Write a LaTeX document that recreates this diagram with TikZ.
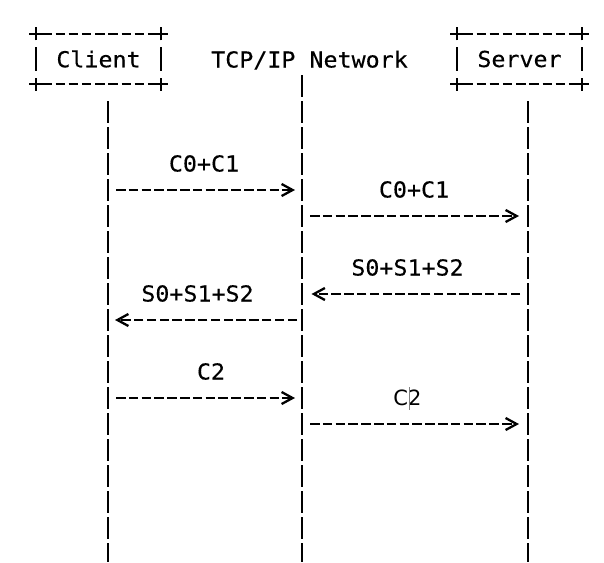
\documentclass[tikz,border=0pt]{standalone}
\usepackage{fontspec}
\setmonofont[FakeStretch=1.06, FakeBold=0.3]{DejaVu Sans Mono}
\newfontfamily\plainsans{DejaVu Sans}
\usetikzlibrary{arrows.meta, calc}

\begin{document}
\begin{tikzpicture}[
        x=1pt, y=-1pt,
        host/.style={minimum width=125pt, minimum height=50pt, inner sep=0pt, font=\ttfamily\fontsize{22}{26}\selectfont},
        lbl/.style={anchor=base, yshift=-7.5pt, inner sep=0pt, font=\ttfamily\fontsize{22}{26}\selectfont},
        rim/.style={line width=2pt, dash pattern=on 9.5pt off 3.7pt},
        side/.style={line width=2pt},
        lifeline/.style={line width=2pt, dash pattern=on 21.5pt off 4.5pt},
        msg/.style={line width=2pt, dash pattern=on 9.5pt off 3.3pt, -{Straight Barb[length=11pt, width=12pt, line width=2.3pt]}}
    ]
    \useasboundingbox (0,0) rectangle (604,562);
    \foreach \r in {0,...,20} {
        \coordinate (r\r) at (0, 34+26*\r);
    }

    \node[host] (client) at (98.5, 59) {Client};
    \node[host] (server) at (519.5, 59) {Server};
    \node[lbl] (network) at (309.5, 60) {TCP/IP Network};

    \foreach \h in {client, server} {
        \draw[rim] ([xshift=6.5pt]\h.north west) -- ([xshift=-6.5pt]\h.north east);
        \draw[rim] ([xshift=6.5pt]\h.south west) -- ([xshift=-6.5pt]\h.south east);
        \draw[side] ([yshift=12pt]\h.west) -- ([yshift=-12pt]\h.west);
        \draw[side] ([yshift=12pt]\h.east) -- ([yshift=-12pt]\h.east);
        \foreach \c in {north west, north east, south west, south east} {
            \draw[side] ([xshift=-6.5pt]\h.\c) -- ([xshift=6.5pt]\h.\c)
                        ([yshift=-6.5pt]\h.\c) -- ([yshift=6.5pt]\h.\c);
        }
    }

    \coordinate (cltop) at (108, 101.25);
    \coordinate (clbot) at (108, 562);
    \coordinate (nwtop) at (302, 75.25);
    \coordinate (nwbot) at (302, 562);
    \coordinate (svtop) at (528, 101.25);
    \coordinate (svbot) at (528, 562);
    \draw[lifeline] (cltop) -- (clbot);
    \draw[lifeline] (nwtop) -- (nwbot);
    \draw[lifeline] (svtop) -- (svbot);

    \foreach \x/\r/\txt in {204/5/C0+C1, 414/6/C0+C1, 407.5/9/S0+S1+S2, 197.5/10/S0+S1+S2, 211/13/C2} {
        \node[lbl] (m\r) at (\x, 34+26*\r) {\txt};
    }
    \node[lbl, font=\plainsans\fontsize{21}{24}\selectfont] (m14) at (407.5, 34+26*14) {C2};
    \draw[gray, line width=0.9pt] (409, 387) -- (409, 410);

    \draw[msg] ($(cltop |- r6)+(8,0)$) -- ($(nwtop |- r6)+(-7,0)$);
    \draw[msg] ($(nwtop |- r7)+(8,0)$) -- ($(svtop |- r7)+(-9,0)$);
    \draw[msg] ($(svtop |- r10)+(-8,0)$) -- ($(nwtop |- r10)+(9.5,0)$);
    \draw[msg] ($(nwtop |- r11)+(-5,0)$) -- ($(cltop |- r11)+(7,0)$);
    \draw[msg] ($(cltop |- r14)+(8,0)$) -- ($(nwtop |- r14)+(-7,0)$);
    \draw[msg] ($(nwtop |- r15)+(8,0)$) -- ($(svtop |- r15)+(-9,0)$);
\end{tikzpicture}
\end{document}
